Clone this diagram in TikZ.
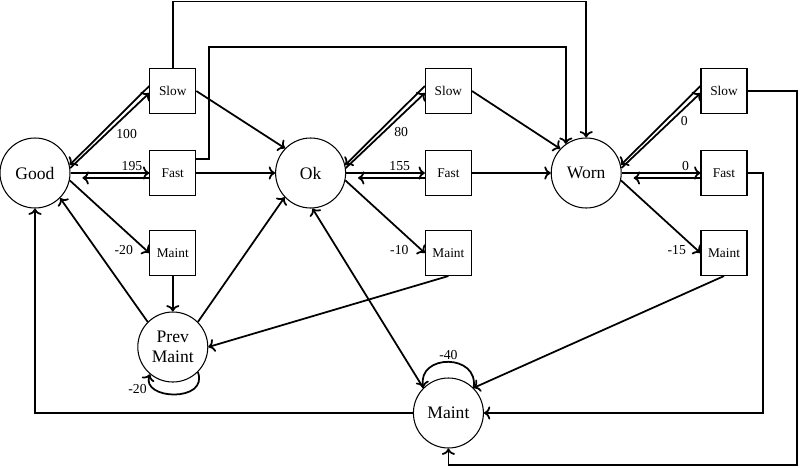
\documentclass[tikz,border=0pt]{standalone}
\usepackage{fontspec}
\setmainfont{Liberation Serif}
\usetikzlibrary{arrows,arrows.meta,positioning,calc}

\begin{document}
\begin{tikzpicture}[node distance=2.756cm, auto, >={To[length=3.6pt,width=7.5pt]},
    state/.style={circle, draw, line width=0.6pt, minimum size=1.4cm, inner sep=0pt, align=center, font=\fontsize{10}{11.3}\selectfont},
    act/.style={rectangle, draw, line width=0.6pt, minimum width=0.92cm, minimum height=0.9cm, inner sep=0pt, font=\fontsize{7.6}{8.5}\selectfont},
    lbl/.style={inner sep=1pt, font=\fontsize{7.8}{8.5}\selectfont},
    arr/.style={->, line width=1pt}]
    \useasboundingbox (0,0) rectangle (16,9.34);
    \node[state] (good) at (0.7,5.88) {Good};
    \node[act, right of=good] (fast1) {Fast};
    \node[act, node distance=1.64cm, above of=fast1] (slow1) {Slow};
    \node[act, node distance=1.6cm, below of=fast1] (maint1) {Maint};
    \node[state, node distance=1.88cm, below of=maint1] (prev) {Prev\\Maint};
    \node[state, right of=fast1] (ok) {Ok};
    \node[act, right of=ok] (fast2) {Fast};
    \node[act, node distance=1.64cm, above of=fast2] (slow2) {Slow};
    \node[act, node distance=1.6cm, below of=fast2] (maint2) {Maint};
    \node[state, node distance=3.2cm, below of=maint2] (maint) {Maint};
    \node[state, right of=fast2] (worn) {Worn};
    \node[act, right of=worn] (fast3) {Fast};
    \node[act, node distance=1.64cm, above of=fast3] (slow3) {Slow};
    \node[act, node distance=1.6cm, below of=fast3] (maint3) {Maint};

    \draw[arr] ([yshift=0.1cm]slow1.west) -- (good.13);
    \draw[arr] (good.8) -- node[lbl, pos=0.55, below right] {100} ([yshift=-0.04cm]slow1.west);
    \draw[arr] (good.east) -- node[lbl, pos=0.78, above] {195} (fast1.west);
    \draw[arr, shorten >=7pt] ([yshift=-0.1cm]fast1.west) -- (good.-8);
    \draw[arr] (good.-12) -- node[lbl, pos=0.96, left=6pt] {-20} (maint1.west);
    \draw[arr] (slow1.east) -- (ok.136);
    \draw[arr] (fast1.east) -- (ok.west);
    \draw[arr] (maint1.south) -- (prev.north);
    \draw[arr] (prev.135) -- (good.-45);
    \draw[arr] (prev.45) -- (ok.-137);
    \draw[arr] (prev.-45) .. controls +(-70:0.65) and +(-110:0.55) .. node[lbl, pos=0.9, below left] {-20} (prev.-130);

    \draw[arr] ([yshift=0.1cm]slow2.west) -- (ok.13);
    \draw[arr] (ok.8) -- node[lbl, pos=0.58, below right] {80} ([yshift=-0.04cm]slow2.west);
    \draw[arr] (ok.east) -- node[lbl, pos=0.68, above] {155} (fast2.west);
    \draw[arr, shorten >=7pt] ([yshift=-0.1cm]fast2.west) -- (ok.-8);
    \draw[arr] (ok.-12) -- node[lbl, pos=0.96, left=6pt] {-10} (maint2.west);
    \draw[arr] (slow2.east) -- (worn.137);
    \draw[arr] (fast2.east) -- (worn.west);
    \draw[arr] (maint2.south) -- (prev.east);
    \draw[arr] (maint.135) -- (ok.-87);
    \draw[arr] (maint.45) .. controls +(80:0.7) and +(100:0.7) .. node[lbl, above] {-40} (maint.135);

    \draw[arr] ([yshift=0.1cm]slow3.west) -- (worn.13);
    \draw[arr] (worn.8) -- node[lbl, pos=0.72, below right] {0} ([yshift=-0.04cm]slow3.west);
    \draw[arr] (worn.east) -- node[lbl, pos=0.81, above] {0} (fast3.west);
    \draw[arr, shorten >=7pt] ([yshift=-0.1cm]fast3.west) -- (worn.-8);
    \draw[arr] (worn.-12) -- node[lbl, pos=0.96, left=5pt] {-15} (maint3.west);
    \draw[arr] (maint3.south) -- (maint.45);

    \draw[arr] (slow1.north) -- ++(0,1.33) -| (worn.north);
    \draw[arr] ([yshift=0.28cm]fast1.east) -| (4.18,8.4) -| (worn.125);
    \draw[arr] (slow3.east) -| (15.94,0.04) -| (maint.south);
    \draw[arr] (fast3.east) -| (15.26,1.08) -- (maint.east);
    \draw[arr] (maint.west) -| (good.south);
\end{tikzpicture}
\end{document}
